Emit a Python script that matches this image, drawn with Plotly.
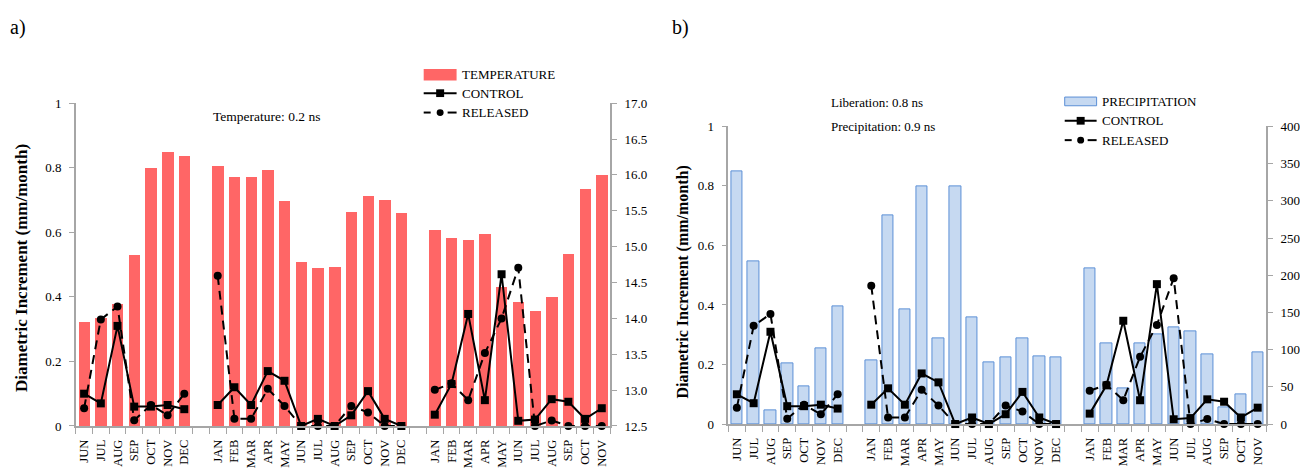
import plotly.graph_objects as go

W, H = 1300, 473

# ---- data -------------------------------------------------------------
year1 = ["JUN", "JUL", "AUG", "SEP", "OCT", "NOV", "DEC"]
year2 = ["JAN", "FEB", "MAR", "APR", "MAY", "JUN", "JUL", "AUG", "SEP", "OCT", "NOV", "DEC"]
year3 = ["JAN", "FEB", "MAR", "APR", "MAY", "JUN", "JUL", "AUG", "SEP", "OCT", "NOV"]

# mean monthly temperature (right axis of panel a)
temperature = [13.95, 14.01, 14.20, 14.88, 16.10, 16.32, 16.26,
               16.12, 15.97, 15.97, 16.07, 15.64, 14.79, 14.70, 14.72, 15.48, 15.71, 15.65, 15.46,
               15.23, 15.12, 15.09, 15.18, 14.44, 14.22, 14.10, 14.30, 14.90, 15.80, 15.99]

# monthly precipitation (right axis of panel b)
precipitation = [340, 218, 19, 81, 50, 101, 158,
                 85, 281, 154, 320, 115, 320, 143, 83, 89, 115, 91, 89,
                 209, 108, 48, 108, 120, 130, 125, 94, 22, 40, 96]

# diametric increment, mm/month
control = [0.100, 0.070, 0.310, 0.060, 0.060, 0.065, 0.052,
           0.065, 0.120, 0.065, 0.170, 0.140, 0.000, 0.022, 0.000, 0.033, 0.108, 0.022, 0.000,
           0.035, 0.130, 0.347, 0.080, 0.470, 0.016, 0.020, 0.083, 0.075, 0.022, 0.055]
released = [0.055, 0.330, 0.370, 0.018, 0.065, 0.033, 0.100,
            0.465, 0.022, 0.022, 0.115, 0.062, 0.000, 0.000, 0.000, 0.062, 0.042, 0.000, 0.000,
            0.112, 0.132, 0.080, 0.226, 0.333, 0.490, 0.000, 0.017, 0.000, 0.000, 0.000]

# ---- category slots: one empty slot between consecutive years ----------
pos, labels, gaps = [], [], []
slot = 0
for i, grp in enumerate([year1, year2, year3]):
    for m in grp:
        pos.append(slot)
        labels.append(m)
        slot += 1
    if i < 2:
        gaps.append(slot)
        slot += 1
n_slots = slot
all_slots = list(range(n_slots))


def with_gaps(values):
    lookup = dict(zip(pos, values))
    return [lookup.get(s) for s in all_slots]


FONT = "Liberation Serif"
GREY = "#A6A6A6"
RED = "#FF6666"
BLUE_FILL = "#C6D9F1"
BLUE_LINE = "#5B8FD6"


def px(x):
    return x / W


def py(y):
    return 1 - y / H


fig = go.Figure()

# panel a: temperature bars + increments
fig.add_trace(go.Bar(x=pos, y=temperature, xaxis="x", yaxis="y", width=0.68,
                     marker=dict(color=RED, line=dict(width=0)), name="TEMPERATURE",
                     showlegend=False))
fig.add_trace(go.Scatter(x=all_slots, y=with_gaps(control), xaxis="x", yaxis="y2",
                         mode="lines+markers", name="CONTROL", connectgaps=False,
                         line=dict(color="black", width=2),
                         marker=dict(symbol="square", size=8, color="black"),
                         cliponaxis=False, showlegend=False))
fig.add_trace(go.Scatter(x=all_slots, y=with_gaps(released), xaxis="x", yaxis="y2",
                         mode="lines+markers", name="RELEASED", connectgaps=False,
                         line=dict(color="black", width=2, dash="9px,6px"),
                         marker=dict(symbol="circle", size=8, color="black"),
                         cliponaxis=False, showlegend=False))

# panel b: precipitation bars + increments
fig.add_trace(go.Bar(x=pos, y=precipitation, xaxis="x2", yaxis="y3", width=0.68,
                     marker=dict(color=BLUE_FILL, line=dict(color=BLUE_LINE, width=1)),
                     name="PRECIPITATION", showlegend=False))
fig.add_trace(go.Scatter(x=all_slots, y=with_gaps(control), xaxis="x2", yaxis="y4",
                         mode="lines+markers", name="CONTROL", connectgaps=False,
                         line=dict(color="black", width=2),
                         marker=dict(symbol="square", size=8, color="black"),
                         cliponaxis=False, showlegend=False))
fig.add_trace(go.Scatter(x=all_slots, y=with_gaps(released), xaxis="x2", yaxis="y4",
                         mode="lines+markers", name="RELEASED", connectgaps=False,
                         line=dict(color="black", width=2, dash="9px,6px"),
                         marker=dict(symbol="circle", size=8, color="black"),
                         cliponaxis=False, showlegend=False))

boundaries = [s - 0.5 for s in range(n_slots + 1)]


def xaxis_cfg(domain, anchor):
    return dict(domain=domain, anchor=anchor, range=[-0.5, n_slots - 0.5],
                tickmode="array", tickvals=pos, ticktext=labels, tickangle=-90,
                ticks="", ticklabelstandoff=7,
                tickfont=dict(family=FONT, size=12.5, color="black"),
                showline=True, linecolor=GREY, linewidth=1.5,
                showgrid=False, zeroline=False,
                minor=dict(tickmode="array", tickvals=boundaries, ticks="outside",
                           ticklen=6, tickwidth=1, tickcolor=GREY))


def yaxis_cfg(domain, anchor, rng, dtick, side, fmt=None, overlay=None):
    d = dict(domain=domain, anchor=anchor, range=rng, dtick=dtick, tick0=rng[0],
             side=side, ticks="outside", ticklen=5, tickwidth=1, tickcolor=GREY,
             showline=True, linecolor=GREY, linewidth=1.5,
             showgrid=False, zeroline=False, ticklabelstandoff=5,
             tickfont=dict(family=FONT, size=13, color="black"))
    if fmt:
        d["tickformat"] = fmt
    if overlay:
        d["overlaying"] = overlay
    return d


dom_a_x = [px(76), px(612)]
dom_a_y = [py(432.7), py(99.3)]
dom_b_x = [px(730.7), px(1270)]
dom_b_y = [py(430.7), py(123.3)]

fig.update_layout(
    width=W, height=H,
    margin=dict(l=0, r=0, t=0, b=0),
    paper_bgcolor="white", plot_bgcolor="rgba(0,0,0,0)",
    font=dict(family=FONT, color="black"),
    bargap=0,
    xaxis=xaxis_cfg(dom_a_x, "y"),
    yaxis=yaxis_cfg(dom_a_y, "x", [12.5, 17.0], 0.5, "right", fmt=".1f"),
    yaxis2=yaxis_cfg(dom_a_y, "x", [0, 1], 0.2, "left", overlay="y"),
    xaxis2=xaxis_cfg(dom_b_x, "y3"),
    yaxis3=yaxis_cfg(dom_b_y, "x2", [0, 400], 50, "right"),
    yaxis4=yaxis_cfg(dom_b_y, "x2", [0, 1], 0.2, "left", overlay="y3"),
)

annotations = []
shapes = []


def text(x, y, s, size, bold=False, angle=0, xanchor="left"):
    annotations.append(dict(x=px(x), y=py(y), xref="paper", yref="paper",
                            text=f"<b>{s}</b>" if bold else s, showarrow=False,
                            xanchor=xanchor, yanchor="middle", textangle=angle,
                            font=dict(family=FONT, size=size, color="black")))


# panel letters
text(8, 21, "a)", 20)
text(672, 21, "b)", 20)

# axis titles
text(21.5, 269, "Diametric Increment (mm/month)", 17, bold=True, angle=-90, xanchor="center")
text(684.7, 284, "Diametric Increment (mm/month)", 16, bold=True, angle=-90, xanchor="center")

# statistics notes
text(212, 113.5, "Temperature: 0.2 ns", 13.5)
text(832, 98.5, "Liberation: 0.8 ns", 13)
text(832, 123.5, "Precipitation: 0.9 ns", 13)


def legend(x0, x1, ys, bar_name, bar_fill, bar_line, bar_h):
    y_bar, y_ctrl, y_rel = ys
    shapes.append(dict(type="rect", xref="paper", yref="paper",
                       x0=px(x0), x1=px(x1), y0=py(y_bar + bar_h / 2), y1=py(y_bar - bar_h / 2),
                       fillcolor=bar_fill, line=dict(color=bar_line, width=1 if bar_line else 0)))
    cx = (x0 + x1) / 2
    shapes.append(dict(type="line", xref="paper", yref="paper",
                       x0=px(x0), x1=px(x1), y0=py(y_ctrl), y1=py(y_ctrl),
                       line=dict(color="black", width=2)))
    shapes.append(dict(type="rect", xref="paper", yref="paper",
                       x0=px(cx - 4), x1=px(cx + 4), y0=py(y_ctrl + 4), y1=py(y_ctrl - 4),
                       fillcolor="black", line=dict(width=0)))
    for a, b in [(x0, x0 + 7), (x1 - 9, x1)]:
        shapes.append(dict(type="line", xref="paper", yref="paper",
                           x0=px(a), x1=px(b), y0=py(y_rel), y1=py(y_rel),
                           line=dict(color="black", width=2)))
    shapes.append(dict(type="circle", xref="paper", yref="paper",
                       x0=px(cx - 3.5), x1=px(cx + 3.5), y0=py(y_rel + 3.5), y1=py(y_rel - 3.5),
                       fillcolor="black", line=dict(width=0)))
    tx = x1 + 3
    text(tx, y_bar, bar_name, 13)
    text(tx, y_ctrl, "CONTROL", 13)
    text(tx, y_rel, "RELEASED", 13)


legend(425, 458, (70, 89, 109), "TEMPERATURE", RED, None, 12)
legend(1068, 1100, (97.5, 117.5, 137.5), "PRECIPITATION", BLUE_FILL, BLUE_LINE, 9)

fig.update_layout(annotations=annotations, shapes=shapes)

fig.write_html("out.html")
